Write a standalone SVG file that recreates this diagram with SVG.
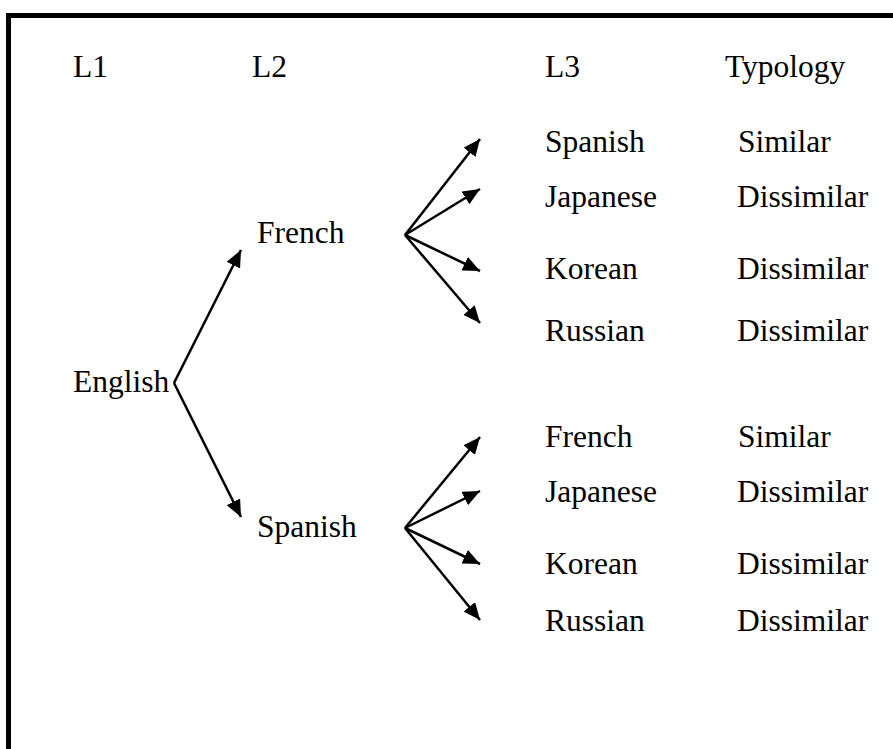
<svg xmlns="http://www.w3.org/2000/svg" width="893" height="749" viewBox="0 0 893 749">
<style>
text{font-family:"Liberation Serif","Times New Roman",serif;font-size:31.5px;fill:#000}
.c line{stroke:#000;stroke-width:2.5;marker-end:url(#ah)}
</style>
<defs>
<marker id="ah" markerUnits="userSpaceOnUse" markerWidth="18" markerHeight="15" refX="17" refY="7.5" orient="auto">
<path d="M0,0 L17,7.5 L0,15 z" fill="#000"/>
</marker>
</defs>
<rect width="893" height="749" fill="#fff"/>
<path id="frame" d="M8.5 749 V15.5 H893" fill="none" stroke="#000" stroke-width="5"/>
<g id="headers">
<text x="73" y="77">L1</text>
<text x="252" y="77">L2</text>
<text x="545" y="77">L3</text>
<text x="725" y="77">Typology</text>
</g>
<g id="english"><text x="73" y="392">English</text></g>
<g id="french-l2"><text x="257" y="243">French</text></g>
<g id="spanish-l2"><text x="257" y="537">Spanish</text></g>
<g id="upper-l3">
<text x="545" y="152">Spanish</text><text x="738" y="152">Similar</text>
<text x="545" y="207">Japanese</text><text x="737" y="207">Dissimilar</text>
<text x="545" y="279">Korean</text><text x="737" y="279">Dissimilar</text>
<text x="545" y="341">Russian</text><text x="737" y="341">Dissimilar</text>
</g>
<g id="lower-l3">
<text x="545" y="447">French</text><text x="738" y="447">Similar</text>
<text x="545" y="502">Japanese</text><text x="737" y="502">Dissimilar</text>
<text x="545" y="574">Korean</text><text x="737" y="574">Dissimilar</text>
<text x="545" y="631">Russian</text><text x="737" y="631">Dissimilar</text>
</g>
<g id="connectors" class="c">
<line x1="174" y1="383" x2="241" y2="250"/>
<line x1="174" y1="383" x2="241" y2="517"/>
<line x1="405" y1="235" x2="480" y2="139"/>
<line x1="405" y1="235" x2="480" y2="189"/>
<line x1="405" y1="235" x2="480" y2="271"/>
<line x1="405" y1="235" x2="480" y2="323"/>
<line x1="405" y1="528" x2="480" y2="437"/>
<line x1="405" y1="528" x2="480" y2="491"/>
<line x1="405" y1="528" x2="480" y2="564"/>
<line x1="405" y1="528" x2="480" y2="620"/>
</g>
</svg>
